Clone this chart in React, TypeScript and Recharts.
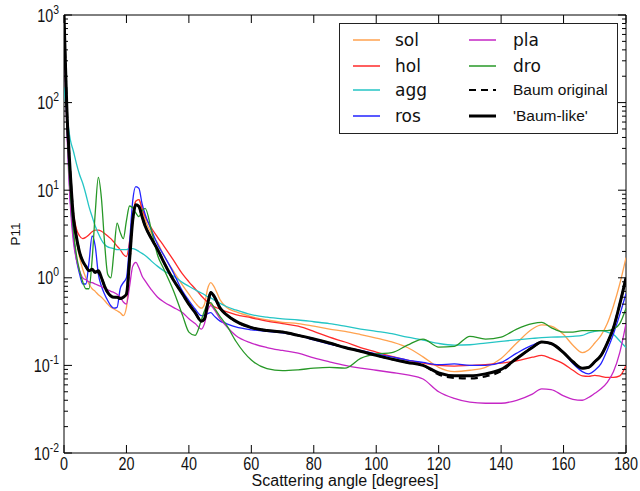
import { LineChart, Line, XAxis, YAxis, ReferenceArea } from 'recharts';

// scattering angle grid [degrees]
const angles = [
  0, 0.5, 1, 1.5, 2, 3, 4, 5, 6, 7,
  8, 9, 10, 11, 12, 13, 14, 15, 16, 17,
  18, 19, 20, 21, 22, 23, 24, 25, 26, 28,
  30, 32, 35, 38, 40, 42, 44, 45, 46, 47,
  48, 50, 52, 55, 60, 65, 70, 75, 80, 85,
  90, 95, 100, 105, 110, 115, 120, 125, 130, 135,
  140, 145, 150, 153, 156, 160, 163, 166, 168, 170,
  172, 174, 176, 178, 180,
];

const sol = [
  1000, 220, 60, 28, 15, 5.0, 2.6, 1.7, 1.25, 1.0,
  0.85, 0.75, 0.7, 0.64, 0.6, 0.55, 0.5, 0.46, 0.44, 0.42,
  0.4, 0.37, 0.46, 1.3, 4.2, 7.5, 7.8, 6.0, 4.6, 3.2,
  2.5, 1.8, 1.2, 0.82, 0.65, 0.52, 0.45, 0.5, 0.75, 0.88,
  0.8, 0.56, 0.46, 0.41, 0.36, 0.33, 0.31, 0.3, 0.28, 0.26,
  0.245, 0.225, 0.205, 0.185, 0.16, 0.125, 0.095, 0.085, 0.088, 0.095,
  0.12, 0.18, 0.26, 0.29, 0.28, 0.225, 0.17, 0.14, 0.15, 0.18,
  0.22, 0.3, 0.48, 0.85, 1.7,
];

const hol = [
  1000, 200, 55, 22, 11, 5.5, 3.6, 3.0, 2.8, 2.9,
  3.1, 3.35, 3.5, 3.5, 3.4, 3.2, 3.0, 2.8, 2.55, 2.3,
  2.1, 1.85, 1.75, 2.6, 5.2, 7.5, 7.8, 6.2, 5.0, 3.7,
  2.9, 2.3, 1.6, 1.1, 0.9, 0.75, 0.62, 0.57, 0.53, 0.5,
  0.47, 0.44, 0.41, 0.38, 0.35, 0.32, 0.3, 0.28, 0.245, 0.21,
  0.185, 0.16, 0.142, 0.127, 0.115, 0.106, 0.1, 0.098, 0.1, 0.102,
  0.106, 0.113, 0.124, 0.13, 0.12, 0.104, 0.088, 0.076, 0.075, 0.077,
  0.075, 0.073, 0.073, 0.076, 0.1,
];

const agg = [
  150, 100, 70, 50, 38, 28, 20, 15, 12, 9,
  6.5, 5.0, 3.9, 3.2, 2.7, 2.4, 2.25, 2.2, 2.15, 2.1,
  2.1, 2.1, 2.1, 2.15, 2.15, 2.1, 2.0, 1.9, 1.8, 1.55,
  1.35, 1.2, 1.05, 0.88, 0.8, 0.73, 0.67, 0.64, 0.61, 0.59,
  0.56, 0.51, 0.47, 0.43, 0.38, 0.355, 0.34, 0.33, 0.315, 0.3,
  0.28, 0.26, 0.245, 0.23, 0.21, 0.195, 0.178, 0.17, 0.172, 0.18,
  0.188, 0.196, 0.203, 0.207, 0.21, 0.212, 0.215, 0.22, 0.235, 0.245,
  0.25, 0.24, 0.225, 0.19, 0.16,
];

const ros = [
  1000, 200, 50, 18, 8, 3.0, 1.6, 1.1, 0.85, 0.85,
  1.5, 3.0, 2.3, 1.1, 0.8, 0.65, 0.55, 0.48, 0.45, 0.46,
  0.75, 0.88, 1.0, 2.5, 7.5, 11, 10.5, 7.0, 5.3, 3.5,
  2.4, 1.8, 1.15, 0.7, 0.55, 0.44, 0.37, 0.37, 0.39, 0.4,
  0.37, 0.32, 0.3, 0.275, 0.255, 0.245, 0.235, 0.22, 0.195, 0.175,
  0.16, 0.148, 0.135, 0.125, 0.115, 0.108, 0.102, 0.104, 0.1, 0.1,
  0.108, 0.138, 0.17, 0.185, 0.176, 0.14, 0.105, 0.085, 0.08, 0.088,
  0.105, 0.15, 0.23, 0.38, 0.66,
];

const pla = [
  1000, 150, 40, 15, 7, 2.6, 1.6, 1.2, 1.0, 0.95,
  0.9, 0.88, 0.85, 0.82, 0.79, 0.76, 0.73, 0.7, 0.68, 0.65,
  0.6, 0.53, 0.5, 0.8, 1.35, 1.5, 1.3, 1.05, 0.92, 0.73,
  0.6, 0.53, 0.46, 0.4, 0.34, 0.3, 0.26, 0.3, 0.42, 0.48,
  0.44, 0.34, 0.28, 0.22, 0.18, 0.16, 0.148, 0.138, 0.122, 0.11,
  0.1, 0.093, 0.088, 0.083, 0.078, 0.07, 0.05, 0.042, 0.038, 0.037,
  0.037, 0.04, 0.047, 0.054, 0.053, 0.045, 0.041, 0.04, 0.043, 0.048,
  0.054, 0.064, 0.085, 0.14, 0.3,
];

const dro = [
  1000, 200, 55, 20, 10, 3.5, 1.8, 1.2, 0.9, 0.75,
  0.75, 1.6, 5.5, 14, 8, 2.5, 1.1, 1.0, 2.0, 4.2,
  3.3, 2.8, 4.5, 6.6, 6.3, 5.5, 5.0, 5.8, 6.2, 3.5,
  1.8, 1.25, 0.72, 0.37, 0.24, 0.22, 0.33, 0.42, 0.5, 0.52,
  0.46, 0.36, 0.29, 0.19, 0.115, 0.092, 0.087, 0.089, 0.093, 0.095,
  0.093, 0.12, 0.135, 0.14, 0.17, 0.2, 0.162, 0.165, 0.215, 0.2,
  0.21, 0.26, 0.3, 0.31, 0.27, 0.24, 0.24, 0.25, 0.25, 0.25,
  0.25, 0.25, 0.26, 0.3, 0.45,
];

const baumOriginal = [
  1000, 250, 70, 32, 16, 5.0, 2.9, 1.95, 1.55, 1.35,
  1.2, 1.2, 1.18, 1.15, 1.0, 0.8, 0.68, 0.62, 0.6, 0.6,
  0.58, 0.6, 0.65, 1.6, 4.5, 6.8, 6.5, 5.0, 3.9, 2.8,
  2.1, 1.5, 0.95, 0.65, 0.5, 0.4, 0.32, 0.34, 0.5, 0.68,
  0.62, 0.45, 0.38, 0.32, 0.27, 0.25, 0.24, 0.22, 0.2, 0.18,
  0.16, 0.145, 0.13, 0.118, 0.108, 0.1, 0.079, 0.072, 0.071, 0.075,
  0.086, 0.12, 0.16, 0.185, 0.178, 0.14, 0.11, 0.093, 0.095, 0.11,
  0.13, 0.18, 0.27, 0.5, 1.0,
];

const baumLike = [
  1000, 250, 70, 32, 16, 5.0, 2.9, 1.95, 1.55, 1.35,
  1.2, 1.25, 1.15, 1.2, 1.0, 0.8, 0.68, 0.62, 0.6, 0.6,
  0.58, 0.6, 0.65, 1.6, 4.5, 6.8, 6.5, 5.0, 3.9, 2.8,
  2.1, 1.5, 0.95, 0.65, 0.5, 0.4, 0.32, 0.34, 0.5, 0.68,
  0.62, 0.45, 0.38, 0.32, 0.27, 0.25, 0.24, 0.22, 0.2, 0.18,
  0.16, 0.145, 0.13, 0.118, 0.108, 0.1, 0.082, 0.076, 0.076, 0.08,
  0.09, 0.12, 0.16, 0.185, 0.178, 0.14, 0.11, 0.093, 0.095, 0.11,
  0.13, 0.18, 0.27, 0.5, 1.0,
];

const xTicks = [0, 20, 40, 60, 80, 100, 120, 140, 160, 180];
const yMajorTicks = [0.01, 0.1, 1, 10, 100, 1000];
const yTickExponents = ['-2', '-1', '0', '1', '2', '3'];
const minorSteps = [2, 3, 4, 5, 6, 7, 8, 9];
const yTicks = [
  ...yMajorTicks,
  ...yMajorTicks.slice(0, -1).flatMap((t) => minorSteps.map((m) => t * m)),
].sort((a, b) => a - b);

const series = [
  { key: 'sol', name: 'sol', color: '#ffa24f', values: sol, width: 1.3 },
  { key: 'hol', name: 'hol', color: '#ff2a2a', values: hol, width: 1.3 },
  { key: 'agg', name: 'agg', color: '#25c5c5', values: agg, width: 1.3 },
  { key: 'ros', name: 'ros', color: '#2222ff', values: ros, width: 1.3 },
  { key: 'pla', name: 'pla', color: '#c526c5', values: pla, width: 1.3 },
  { key: 'dro', name: 'dro', color: '#279827', values: dro, width: 1.3 },
  { key: 'baumOriginal', name: 'Baum original', color: '#000', values: baumOriginal, width: 2.2, dash: '7 5' },
  { key: 'baumLike', name: "'Baum-like'", color: '#000', values: baumLike, width: 3 },
];

const data = angles.map((a, i) => {
  const row: any = { angle: a };
  series.forEach((s) => (row[s.key] = s.values[i]));
  return row;
});

const PLOT = { left: 64, right: 626, top: 15, bottom: 453 };
const TICK_FONT = "'Liberation Sans', Arial, sans-serif";

function XTick(props: any) {
  const x = props.payload.coordinate ?? props.x;
  return (
    <g>
      <line x1={x} x2={x} y1={PLOT.bottom} y2={PLOT.bottom - 8} stroke="#000" />
      <line x1={x} x2={x} y1={PLOT.top} y2={PLOT.top + 8} stroke="#000" />
      <text
        transform={`translate(${x},${PLOT.bottom + 16.5}) scale(0.8,1)`}
        textAnchor="middle"
        fontFamily={TICK_FONT}
        fontSize={18}
        fill="#111"
      >
        {props.payload.value}
      </text>
    </g>
  );
}

function YTick(props: any) {
  const v = props.payload.value;
  const y = props.payload.coordinate ?? props.y;
  const idx = yMajorTicks.findIndex((t) => Math.abs(t - v) / t < 1e-6);
  const len = idx >= 0 ? 8 : 4;
  return (
    <g>
      <line x1={PLOT.left} x2={PLOT.left + len} y1={y} y2={y} stroke="#000" />
      <line x1={PLOT.right} x2={PLOT.right - len} y1={y} y2={y} stroke="#000" />
      {idx >= 0 && (
        <text
          transform={`translate(${PLOT.left - 5},${y + 6.5}) scale(0.8,1)`}
          textAnchor="end"
          fontFamily={TICK_FONT}
          fontSize={18}
          fill="#111"
        >
          <tspan>10</tspan>
          <tspan dy={-8} fontSize={13}>{yTickExponents[idx]}</tspan>
        </text>
      )}
    </g>
  );
}

function LegendSample({ s }: { s: any }) {
  return (
    <svg width={30} height={10} style={{ display: 'block' }}>
      <line x1={1} x2={28} y1={5} y2={5} stroke={s.color} strokeWidth={s.width === 3 ? 3 : s.dash ? 2.2 : 1.5} strokeDasharray={s.dash} />
    </svg>
  );
}

function PlotLegend() {
  const cols = [series.slice(0, 4), series.slice(4)];
  const rowY = [16, 42, 66, 92];
  return (
    <div
      style={{
        position: 'absolute',
        left: 339,
        top: 23,
        width: 277,
        height: 109,
        border: '1px solid #222',
        background: '#fff',
      }}
    >
      {cols.map((col, c) =>
        col.map((s, r) => {
          const small = s.key.startsWith('baum');
          return (
            <div
              key={s.key}
              style={{
                position: 'absolute',
                left: c === 0 ? 12 : 128,
                top: rowY[r] - 12,
                height: 24,
                display: 'flex',
                alignItems: 'center',
              }}
            >
              <LegendSample s={s} />
              <span
                style={{
                  marginLeft: c === 0 ? 13 : 15,
                  fontFamily: small ? "'Liberation Sans', Arial, sans-serif" : "'DejaVu Sans', sans-serif",
                  fontSize: small ? 15.5 : 17,
                  color: '#111',
                  whiteSpace: 'nowrap',
                  lineHeight: '24px',
                }}
              >
                {s.name}
              </span>
            </div>
          );
        })
      )}
    </div>
  );
}

export default function App() {
  return (
    <div style={{ position: 'absolute', left: 0, top: 0, width: 640, height: 491, overflow: 'hidden', background: '#fff' }}>
      <LineChart width={640} height={491} data={data} margin={{ top: PLOT.top, right: 640 - PLOT.right, bottom: 0, left: 0 }}>
        <XAxis
          dataKey="angle"
          type="number"
          domain={[0, 180]}
          ticks={xTicks}
          interval={0}
          height={491 - PLOT.bottom}
          axisLine={false}
          tickLine={false}
          tick={<XTick />}
          allowDataOverflow
          label={(p: any) => {
            const vb = p.viewBox || {};
            return (
              <text
                x={(vb.x ?? PLOT.left) + (vb.width ?? PLOT.right - PLOT.left) / 2}
                y={486}
                textAnchor="middle"
                fontFamily={TICK_FONT}
                fontSize={16}
                fill="#111"
              >
                Scattering angle [degrees]
              </text>
            );
          }}
        />
        <YAxis
          scale="log"
          type="number"
          domain={[0.01, 1000]}
          ticks={yTicks}
          interval={0}
          width={PLOT.left}
          axisLine={false}
          tickLine={false}
          tick={<YTick />}
          allowDataOverflow
          label={(p: any) => {
            const vb = p.viewBox || {};
            const cy = (vb.y ?? PLOT.top) + (vb.height ?? PLOT.bottom - PLOT.top) / 2;
            return (
              <text
                x={15}
                y={cy}
                transform={`rotate(-90, 15, ${cy})`}
                textAnchor="middle"
                dominantBaseline="central"
                fontFamily={TICK_FONT}
                fontSize={13.5}
                fill="#111"
              >
                P11
              </text>
            );
          }}
        />
        {series.map((s) => (
          <Line
            key={s.key}
            type="monotone"
            dataKey={s.key}
            name={s.name}
            stroke={s.color}
            strokeWidth={s.width}
            strokeDasharray={s.dash}
            dot={false}
            activeDot={false}
            isAnimationActive={false}
          />
        ))}
        <ReferenceArea x1={0} x2={180} y1={0.01} y2={1000} fill="none" stroke="#000" strokeWidth={1} fillOpacity={0} />
      </LineChart>
      <PlotLegend />
    </div>
  );
}
